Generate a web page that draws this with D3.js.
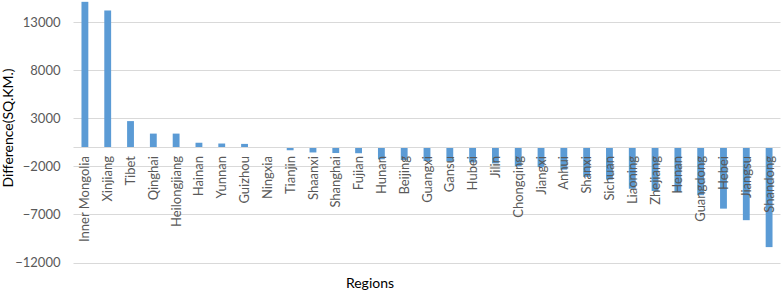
<!DOCTYPE html>
<html>
<head>
<meta charset="utf-8">
<script src="https://cdn.jsdelivr.net/npm/d3@7"></script>
<style>
  body { margin: 0; background: #fff; }
  text { font-family: Lato, "Open Sans", sans-serif; }
</style>
</head>
<body>
<div id="chart"></div>
<script>
var regions = ["Inner Mongolia", "Xinjiang", "Tibet", "Qinghai", "Heilongjiang", "Hainan", "Yunnan",
  "Guizhou", "Ningxia", "Tianjin", "Shaanxi", "Shanghai", "Fujian", "Hunan", "Beijing", "Guangxi",
  "Gansu", "Hubei", "Jilin", "Chongqing", "Jiangxi", "Anhui", "Shanxi", "Sichuan", "Liaoning",
  "Zhejiang", "Henan", "Guangdong", "Hebei", "Jiangsu", "Shandong"];

var differences = [15100, 14200, 2700, 1400, 1400, 450, 370, 330,
  0, -330, -560, -620, -640, -1270, -1350, -1450,
  -1500, -1600, -1700, -2000, -2080, -2350, -3100, -3380, -4330,
  -4570, -4670, -5000, -6400, -7600, -10400];

var yTicks = [-12000, -7000, -2000, 3000, 8000, 13000];

var width = 782, height = 293;
var plotLeft = 73.5, plotRight = 780.5, plotTop = 0, plotBottom = 262.5;

var svg = d3.select('#chart')
  .append('svg')
  .attr('width', width)
  .attr('height', height);

var x = d3.scaleBand()
  .domain(regions)
  .range([plotLeft, plotRight])
  .paddingInner(0.7)
  .paddingOuter(0.35);

var y = d3.scaleLinear()
  .domain([-12000, 15290])
  .range([plotBottom, plotTop]);

// gridlines
svg.append('g')
  .selectAll('line')
  .data(yTicks)
  .enter()
  .append('line')
  .attr('x1', plotLeft)
  .attr('x2', plotRight)
  .attr('y1', function (d) { return Math.round(y(d)) + 0.5; })
  .attr('y2', function (d) { return Math.round(y(d)) + 0.5; })
  .attr('stroke', '#d9d9d9')
  .attr('stroke-width', 1);

// y axis labels
var yAxis = d3.axisLeft(y)
  .tickValues(yTicks)
  .tickSize(0)
  .tickPadding(13)
  .tickFormat(d3.format('d'));

var ga = svg.append('g')
  .attr('transform', 'translate(' + plotLeft + ',0)')
  .call(yAxis);
ga.select('.domain').remove();
ga.selectAll('text')
  .attr('font-family', 'Lato, sans-serif')
  .attr('font-size', '13px')
  .attr('fill', '#595959');

// bars
svg.append('g')
  .selectAll('rect')
  .data(differences)
  .enter()
  .append('rect')
  .attr('x', function (d, i) { return x(regions[i]); })
  .attr('width', x.bandwidth())
  .attr('y', function (d) { return y(Math.max(0, d)); })
  .attr('height', function (d) { return Math.abs(y(d) - y(0)); })
  .attr('fill', '#5b9bd5');

// zero axis line
svg.append('line')
  .attr('x1', plotLeft)
  .attr('x2', plotRight)
  .attr('y1', Math.round(y(0)) + 0.5)
  .attr('y2', Math.round(y(0)) + 0.5)
  .attr('stroke', '#d9d9d9');

// category labels
var xAxis = d3.axisBottom(x).tickSize(0).tickPadding(0);
var gx = svg.append('g')
  .attr('transform', 'translate(0,' + y(0) + ')')
  .call(xAxis);
gx.select('.domain').remove();
gx.selectAll('text')
  .attr('font-family', 'Lato, sans-serif')
  .attr('font-size', '13px')
  .attr('fill', '#595959')
  .attr('text-anchor', 'end')
  .attr('dy', '0.35em')
  .attr('transform', 'translate(0,9) rotate(-90)');

// axis titles
svg.append('text')
  .attr('transform', 'translate(13,128) rotate(-90)')
  .attr('text-anchor', 'middle')
  .attr('font-size', '14px')
  .attr('fill', '#000')
  .text('Difference(SQ.KM.)');

svg.append('text')
  .attr('x', 370)
  .attr('y', 288)
  .attr('text-anchor', 'middle')
  .attr('font-size', '14px')
  .attr('fill', '#000')
  .text('Regions');
</script>
</body>
</html>
